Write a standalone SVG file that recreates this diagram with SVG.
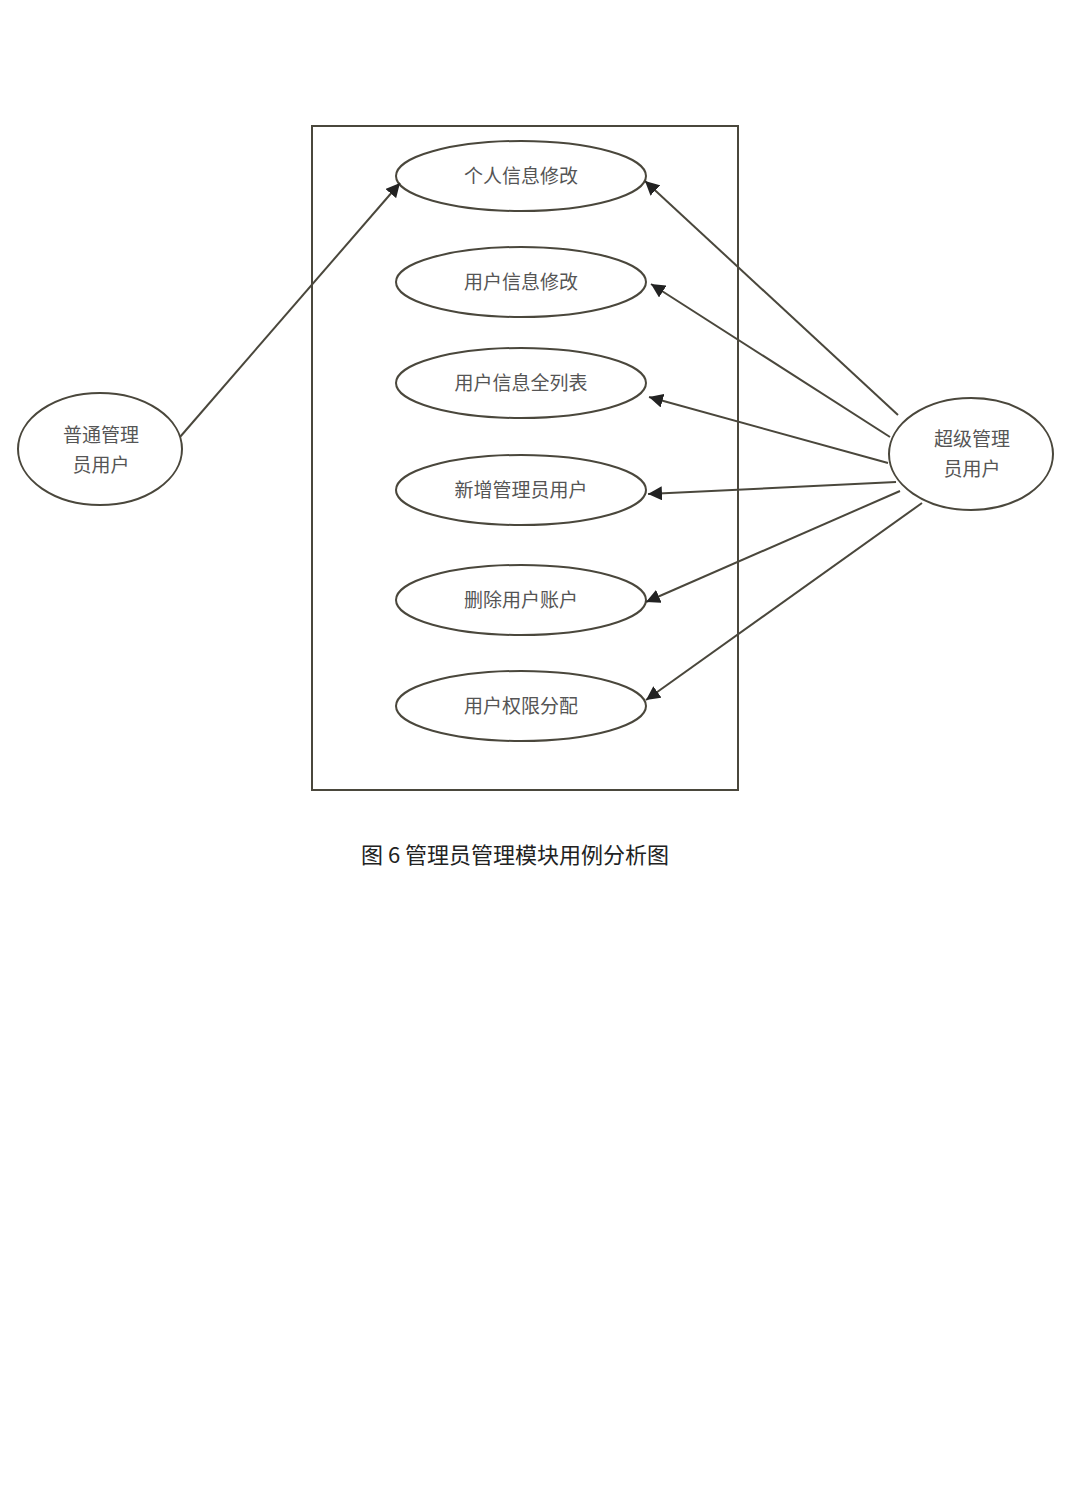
<svg xmlns="http://www.w3.org/2000/svg" width="1080" height="1498" viewBox="0 0 1080 1498">
<style>
.s{fill:none;stroke:#4a473c;stroke-width:2}
.t{font-family:"Noto Sans CJK SC",sans-serif;font-size:19px;fill:#555;text-anchor:middle}
.c{font-family:"Noto Sans CJK SC",sans-serif;font-size:22px;fill:#222;text-anchor:middle}
</style>
<defs><marker id="a" viewBox="0 0 10 10" refX="10" refY="5" markerWidth="7" markerHeight="7" orient="auto"><path d="M0,0L10,5L0,10z" fill="#222"/></marker></defs>
<rect width="1080" height="1498" fill="#fff"/>
<rect x="312" y="126" width="426" height="664" class="s"/>
<g id="uc1"><ellipse cx="521" cy="176" rx="125" ry="35" class="s"/><text x="521" y="183" class="t">个人信息修改</text></g>
<g id="uc2"><ellipse cx="521" cy="282" rx="125" ry="35" class="s"/><text x="521" y="289" class="t">用户信息修改</text></g>
<g id="uc3"><ellipse cx="521" cy="383" rx="125" ry="35" class="s"/><text x="521" y="390" class="t">用户信息全列表</text></g>
<g id="uc4"><ellipse cx="521" cy="490" rx="125" ry="35" class="s"/><text x="521" y="497" class="t">新增管理员用户</text></g>
<g id="uc5"><ellipse cx="521" cy="600" rx="125" ry="35" class="s"/><text x="521" y="607" class="t">删除用户账户</text></g>
<g id="uc6"><ellipse cx="521" cy="706" rx="125" ry="35" class="s"/><text x="521" y="713" class="t">用户权限分配</text></g>
<g id="actorL"><ellipse cx="100" cy="449" rx="82" ry="56" class="s"/><text x="101" y="442" class="t">普通管理</text><text x="101" y="472" class="t">员用户</text></g>
<g id="actorR"><ellipse cx="971" cy="454" rx="82" ry="56" class="s"/><text x="972" y="446" class="t">超级管理</text><text x="972" y="476" class="t">员用户</text></g>
<g id="connectors" class="s" marker-end="url(#a)">
<line x1="180" y1="437" x2="400" y2="183"/>
<line x1="898" y1="415" x2="645" y2="181"/>
<line x1="890" y1="437" x2="651" y2="284"/>
<line x1="888" y1="463" x2="649" y2="397"/>
<line x1="896" y1="482" x2="648" y2="494"/>
<line x1="900" y1="491" x2="646" y2="602"/>
<line x1="922" y1="503" x2="646" y2="700"/>
</g>
<text x="515" y="863" class="c">图 6  管理员管理模块用例分析图</text>
</svg>
